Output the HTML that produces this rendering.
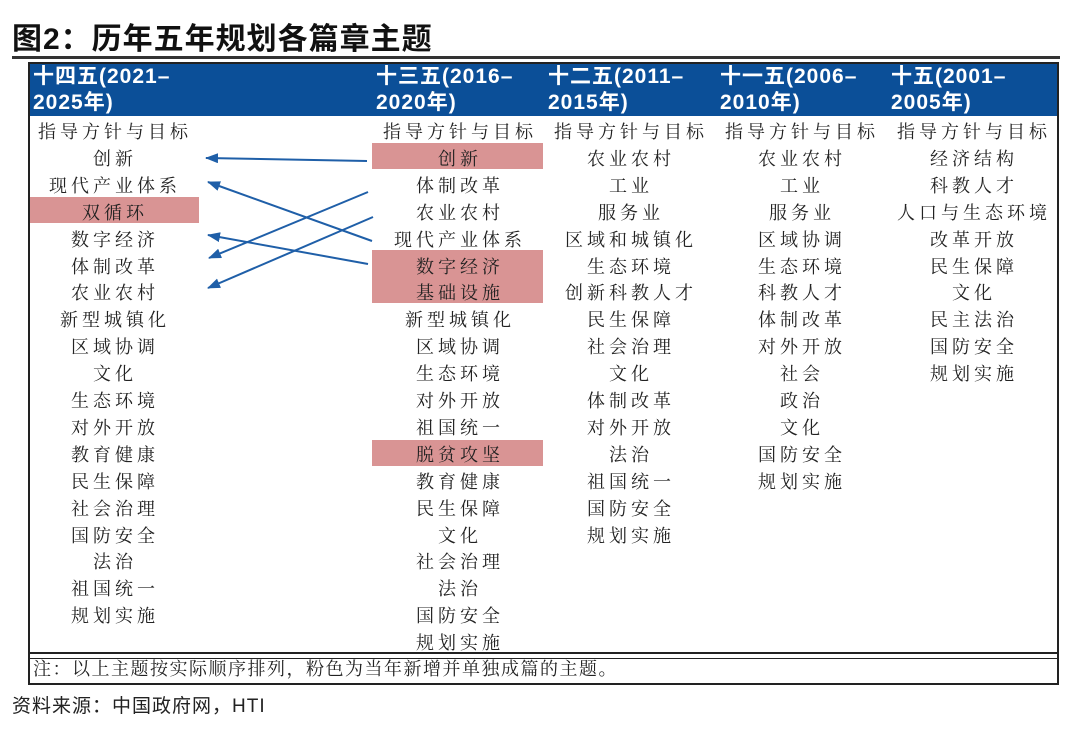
<!DOCTYPE html>
<html><head><meta charset="utf-8"><style>
body{margin:0;width:1080px;height:729px;background:#fff;position:relative;overflow:hidden;font-family:"Noto Serif CJK SC","Liberation Serif",serif;}
.a{position:absolute;}
.t{left:12px;top:14px;font:bold 30px "Liberation Sans","Noto Sans CJK SC",sans-serif;color:#111;letter-spacing:1px}
.c{position:absolute;text-align:center;font-size:18px;letter-spacing:4px;color:#222;height:27px;line-height:27px;white-space:nowrap;font-family:"Noto Serif CJK SC",serif}
.h{position:absolute;color:#fff;font:bold 21px "Liberation Sans","Noto Sans CJK SC",sans-serif;letter-spacing:1px;line-height:26px;top:64px;white-space:nowrap}
.p{position:absolute;background:#d99494}
</style></head><body>
<div class="a t">图2：历年五年规划各篇章主题</div>
<div class="a" style="left:12px;top:56px;width:1048px;height:3px;background:#333"></div>
<div class="a" style="left:28px;top:62px;width:1027px;height:619px;border:2px solid #222;box-sizing:content-box"></div>
<div class="a" style="left:30px;top:64px;width:1027px;height:52px;background:#0b4f98"></div>
<div class="a" style="left:30px;top:652px;width:1027px;height:4px;border-top:2px solid #222;border-bottom:1px solid #222"></div>
<div class="h" style="left:33px">十四五(2021–<br>2025年)</div>
<div class="h" style="left:376px">十三五(2016–<br>2020年)</div>
<div class="h" style="left:548px">十二五(2011–<br>2015年)</div>
<div class="h" style="left:720px">十一五(2006–<br>2010年)</div>
<div class="h" style="left:891px">十五(2001–<br>2005年)</div>
<div class="p" style="left:30px;top:197px;width:169px;height:26px"></div>
<div class="p" style="left:372px;top:143px;width:171px;height:26px"></div>
<div class="p" style="left:372px;top:250px;width:171px;height:53px"></div>
<div class="p" style="left:372px;top:440px;width:171px;height:26px"></div>
<div id="cols"></div>
<svg class="a" style="left:0;top:0" width="1080" height="729">
<defs><marker id="ar" markerWidth="14" markerHeight="12" refX="12" refY="5" orient="auto" markerUnits="userSpaceOnUse"><path d="M13,5 L0,0 L0,10 Z" fill="#1f5fa8"/></marker></defs>
<g stroke="#1f5fa8" stroke-width="2" fill="none">
<line x1="367" y1="161" x2="206" y2="158" marker-end="url(#ar)"/>
<line x1="372" y1="241" x2="208" y2="182" marker-end="url(#ar)"/>
<line x1="368" y1="192" x2="209" y2="258" marker-end="url(#ar)"/>
<line x1="373" y1="217" x2="208" y2="288" marker-end="url(#ar)"/>
<line x1="368" y1="264" x2="208" y2="235" marker-end="url(#ar)"/>
</g></svg>
<div class="a" style="left:33px;top:656px;font-size:18px;letter-spacing:1.5px;line-height:24px;color:#222">注：以上主题按实际顺序排列，粉色为当年新增并单独成篇的主题。</div>
<div class="a" style="left:12px;top:691px;font:19px 'Liberation Sans','Noto Sans CJK SC',sans-serif;color:#222;letter-spacing:1px">资料来源：中国政府网，HTI</div>
<script>
var cols=[[113,"指导方针与目标,创新,现代产业体系,双循环,数字经济,体制改革,农业农村,新型城镇化,区域协调,文化,生态环境,对外开放,教育健康,民生保障,社会治理,国防安全,法治,祖国统一,规划实施"],
[458,"指导方针与目标,创新,体制改革,农业农村,现代产业体系,数字经济,基础设施,新型城镇化,区域协调,生态环境,对外开放,祖国统一,脱贫攻坚,教育健康,民生保障,文化,社会治理,法治,国防安全,规划实施"],
[629,"指导方针与目标,农业农村,工业,服务业,区域和城镇化,生态环境,创新科教人才,民生保障,社会治理,文化,体制改革,对外开放,法治,祖国统一,国防安全,规划实施"],
[800,"指导方针与目标,农业农村,工业,服务业,区域协调,生态环境,科教人才,体制改革,对外开放,社会,政治,文化,国防安全,规划实施"],
[972,"指导方针与目标,经济结构,科教人才,人口与生态环境,改革开放,民生保障,文化,民主法治,国防安全,规划实施"]];
var h="";cols.forEach(function(c){c[1].split(",").forEach(function(s,i){h+='<div class="c" style="left:'+(c[0]-100)+'px;width:200px;padding-left:4px;box-sizing:border-box;top:'+(118+i*26.9)+'px">'+s+'</div>';});});
document.getElementById("cols").innerHTML=h;
</script>
</body></html>
